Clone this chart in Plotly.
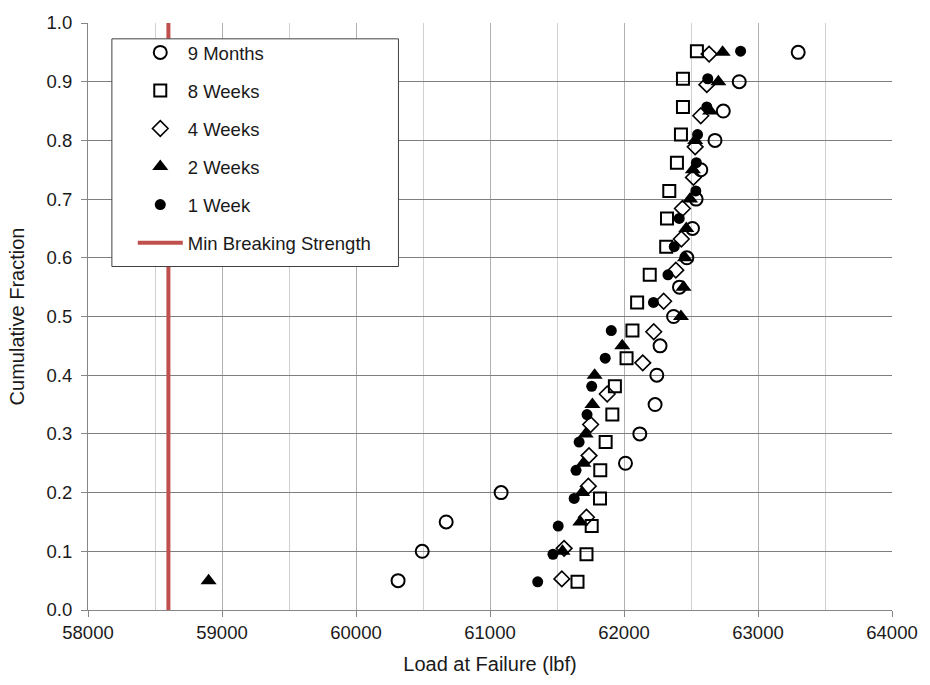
import plotly.graph_objects as go

# Load at failure (lbf) and cumulative fraction for each ageing period
months9_load = [60314, 60494, 60673, 61083, 62011, 62118, 62232, 62245, 62269, 62370,
                62414, 62469, 62511, 62538, 62573, 62679, 62741, 62860, 63300]
months9_frac = [0.05, 0.10, 0.15, 0.20, 0.25, 0.30, 0.35, 0.40, 0.45, 0.50,
                0.55, 0.60, 0.65, 0.70, 0.75, 0.80, 0.85, 0.90, 0.95]

weeks8_load = [61653, 61720, 61759, 61821, 61823, 61863, 61913, 61932, 62019, 62063,
               62098, 62192, 62315, 62321, 62338, 62395, 62425, 62440, 62440, 62544]
weeks8_frac = [0.048, 0.095, 0.143, 0.190, 0.238, 0.286, 0.333, 0.381, 0.429, 0.476,
               0.524, 0.571, 0.619, 0.667, 0.714, 0.762, 0.810, 0.857, 0.905, 0.952]

weeks4_load = [61536, 61553, 61720, 61734, 61739, 61751, 61875, 62140, 62222, 62296,
               62387, 62428, 62436, 62518, 62531, 62573, 62618, 62635]
weeks4_frac = [0.053, 0.105, 0.158, 0.211, 0.263, 0.316, 0.368, 0.421, 0.474, 0.526,
               0.579, 0.632, 0.684, 0.737, 0.789, 0.842, 0.895, 0.947]

weeks2_load = [58900, 61541, 61674, 61688, 61697, 61714, 61764, 61781, 61987, 62425,
               62444, 62455, 62465, 62493, 62514, 62531, 62643, 62704, 62736]
weeks2_frac = [0.05, 0.10, 0.15, 0.20, 0.25, 0.30, 0.35, 0.40, 0.45, 0.50,
               0.55, 0.60, 0.65, 0.70, 0.75, 0.80, 0.85, 0.90, 0.95]

week1_load = [61356, 61470, 61509, 61628, 61642, 61665, 61724, 61759, 61860, 61905,
              62220, 62328, 62375, 62412, 62536, 62540, 62549, 62618, 62625, 62870]
week1_frac = [0.048, 0.095, 0.143, 0.190, 0.238, 0.286, 0.333, 0.381, 0.429, 0.476,
              0.524, 0.571, 0.619, 0.667, 0.714, 0.762, 0.810, 0.857, 0.905, 0.952]

min_strength = 58600
frac_span = [0.0, 1.0]

x_ticks = [58000, 59000, 60000, 61000, 62000, 63000, 64000]
y_ticks = [0.0, 0.1, 0.2, 0.3, 0.4, 0.5, 0.6, 0.7, 0.8, 0.9, 1.0]

FONT = "Arial, 'Liberation Sans', sans-serif"

series = [
    ("9 Months", months9_load, months9_frac, "circle-open", 13, 2.0),
    ("8 Weeks", weeks8_load, weeks8_frac, "square-open", 12, 2.0),
    ("4 Weeks", weeks4_load, weeks4_frac, "diamond-open", 12, 1.6),
    ("2 Weeks", weeks2_load, weeks2_frac, "triangle-up", 14, 0),
    ("1 Week", week1_load, week1_frac, "circle", 11, 0),
]

fig = go.Figure()
for name, xs, ys, sym, size, lw in series:
    fig.add_trace(go.Scatter(
        x=xs, y=ys, mode="markers", name=name, legendgroup=name,
        marker=dict(symbol=sym, size=size, color="black",
                    line=dict(color="black", width=lw)),
    ))

fig.add_trace(go.Scatter(
    x=[min_strength, min_strength], y=frac_span, mode="lines",
    name="Min Breaking Strength", legendgroup="min",
    line=dict(color="#C0504D", width=4),
))

# opaque legend frame sitting over the plot area
fig.add_shape(type="rect", xref="paper", yref="paper",
              x0=(112 - 88) / 808, x1=(400 - 88) / 808,
              y0=(610 - 263) / 593, y1=(610 - 33) / 593,
              fillcolor="white", line=dict(color="#404040", width=1),
              layer="above")

fig.update_layout(
    width=930, height=685,
    margin=dict(l=88, r=34, t=17, b=75),
    paper_bgcolor="white", plot_bgcolor="white",
    font=dict(family=FONT, size=18, color="#1a1a1a"),
    showlegend=True,
    legend=dict(
        x=(133 - 88) / 808, y=(610 - 28) / 593, xanchor="left", yanchor="top",
        bgcolor="rgba(0,0,0,0)", borderwidth=0,
        traceorder="grouped", tracegroupgap=11, itemwidth=45,
        font=dict(family=FONT, size=18.5, color="#1a1a1a"),
    ),
    xaxis=dict(
        range=[58000, 64000], tickvals=x_ticks, tickformat="d",
        showgrid=True, gridcolor="#B0B0B0", gridwidth=1,
        minor=dict(dtick=500, showgrid=True, gridcolor="#D0D0D0", ticks=""),
        showline=True, linecolor="#868686", linewidth=1,
        ticks="outside", ticklen=6, tickcolor="#868686",
        zeroline=False,
        title=dict(text="Load at Failure (lbf)", standoff=14,
                   font=dict(family=FONT, size=20)),
        tickfont=dict(family=FONT, size=18.5),
    ),
    yaxis=dict(
        range=[0, 1], tickvals=y_ticks, tickformat=".1f",
        showgrid=True, gridcolor="#7F7F7F", gridwidth=1,
        showline=True, linecolor="#868686", linewidth=1,
        ticks="outside", ticklen=6, tickcolor="#868686",
        ticklabelstandoff=5,
        zeroline=False,
        title=dict(text="Cumulative Fraction", standoff=16,
                   font=dict(family=FONT, size=20)),
        tickfont=dict(family=FONT, size=18.5),
    ),
)

fig.write_html("out.html")
